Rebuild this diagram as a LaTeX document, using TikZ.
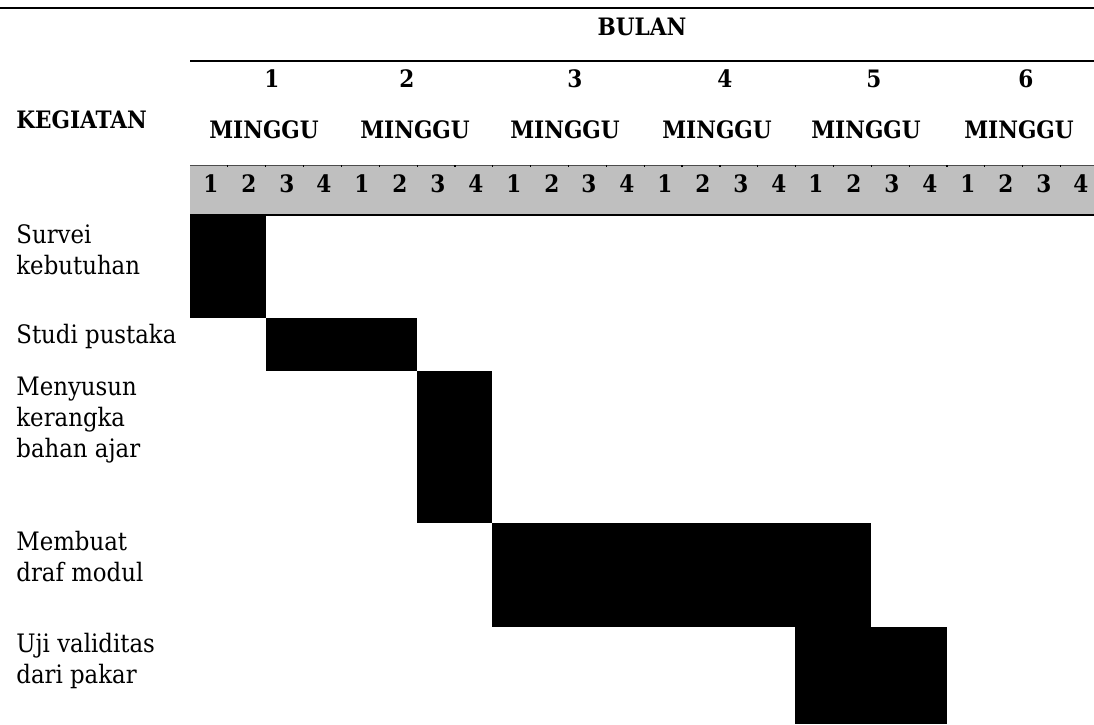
\documentclass[tikz,border=0pt]{standalone}
\usepackage{fontspec}
\setmainfont{DejaVu Serif Condensed}

\begin{document}
\begin{tikzpicture}[x = 0.5pt, y = -0.5pt]
	\tikzstyle{headStyle} = [inner sep = 0pt, anchor = base, font = \fontsize{12}{13}\selectfont\bfseries]
	\tikzstyle{taskStyle} = [inner sep = 0pt, anchor = north west, align = left, font = \fontsize{12.7}{15.5}\selectfont]
	\tikzstyle{ruleStyle} = [line width = 0.8pt]
	\tikzstyle{barStyle} = [fill = black]
	\useasboundingbox (0,0) rectangle (1094,724);
	% header rules and week band
	\draw[ruleStyle] (0,8) -- (1094,8);
	\draw[ruleStyle] (190,61) -- (1094,61);
	\fill[black!25] (190,165) rectangle (1094,215);
	\draw[line width = 0.3pt, black!70] (190,165) -- (1094,165);
	\foreach \k in {1,...,23}
		\draw[line width = 0.6pt] (190+\k*37.85,165) -- (190+\k*37.85,166.5);
	\draw[ruleStyle] (190,215) -- (1094,215);
	% header texts
	\node[headStyle] (bulan) at (642,35) {BULAN};
	\node[headStyle, anchor = base west] (kegiatan) at (16,128) {KEGIATAN};
	\node[headStyle] (m1) at (272,87) {1};
	\node[headStyle] (m2) at (407,87) {2};
	\node[headStyle] (m3) at (575,87) {3};
	\node[headStyle] (m4) at (725,87) {4};
	\node[headStyle] (m5) at (874,87) {5};
	\node[headStyle] (m6) at (1026,87) {6};
	\node[headStyle] (g1) at (264,138) {MINGGU};
	\node[headStyle] (g2) at (415,138) {MINGGU};
	\node[headStyle] (g3) at (565,138) {MINGGU};
	\node[headStyle] (g4) at (717,138) {MINGGU};
	\node[headStyle] (g5) at (866,138) {MINGGU};
	\node[headStyle] (g6) at (1019,138) {MINGGU};
	\node[headStyle] (w1) at (211,192) {1};
	\node[headStyle] (w2) at (249,192) {2};
	\node[headStyle] (w3) at (287,192) {3};
	\node[headStyle] (w4) at (324,192) {4};
	\node[headStyle] (w5) at (362,192) {1};
	\node[headStyle] (w6) at (400,192) {2};
	\node[headStyle] (w7) at (438,192) {3};
	\node[headStyle] (w8) at (476,192) {4};
	\node[headStyle] (w9) at (514,192) {1};
	\node[headStyle] (w10) at (552,192) {2};
	\node[headStyle] (w11) at (589,192) {3};
	\node[headStyle] (w12) at (627,192) {4};
	\node[headStyle] (w13) at (665,192) {1};
	\node[headStyle] (w14) at (703,192) {2};
	\node[headStyle] (w15) at (741,192) {3};
	\node[headStyle] (w16) at (779,192) {4};
	\node[headStyle] (w17) at (816,192) {1};
	\node[headStyle] (w18) at (854,192) {2};
	\node[headStyle] (w19) at (892,192) {3};
	\node[headStyle] (w20) at (930,192) {4};
	\node[headStyle] (w21) at (968,192) {1};
	\node[headStyle] (w22) at (1006,192) {2};
	\node[headStyle] (w23) at (1044,192) {3};
	\node[headStyle] (w24) at (1081,192) {4};
	% activities
	\node[taskStyle] (t1) at (16,221) {\strut Survei\\kebutuhan};
	\node[taskStyle] (t2) at (16,321) {\strut Studi pustaka};
	\node[taskStyle] (t3) at (16,373) {\strut Menyusun\\kerangka\\bahan ajar};
	\node[taskStyle] (t4) at (16,528) {\strut Membuat\\draf modul};
	\node[taskStyle] (t5) at (16,630) {\strut Uji validitas\\dari pakar};
	% bars
	\fill[barStyle] (190,215) rectangle (266,318);
	\fill[barStyle] (266,318) rectangle (417,371);
	\fill[barStyle] (417,371) rectangle (492,523);
	\fill[barStyle] (492,523) rectangle (871,627);
	\fill[barStyle] (795,627) rectangle (947,724);
\end{tikzpicture}
\end{document}
